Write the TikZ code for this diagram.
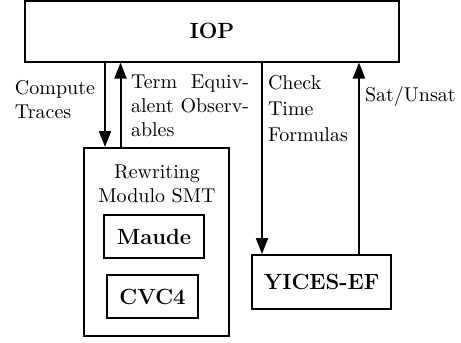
\documentclass[tikz,border=0pt]{standalone}
\usetikzlibrary{arrows.meta}

\begin{document}
\begin{tikzpicture}[x=1pt,y=1pt,line width=1pt,
        >={Triangle[length=8pt,width=6pt]},
        box/.style={draw,shape=rectangle,inner sep=0pt,font=\fontsize{11}{13}\selectfont\bfseries},
        lbl/.style={inner sep=0pt,anchor=west}]
        \useasboundingbox (0,0) rectangle (230.5,-171.5);
        \node[box,minimum width=187pt,minimum height=30.5pt] (iop) at (106,-15.5) {IOP};
        \node[box,minimum width=72.5pt,minimum height=94pt] (rw) at (78.25,-121) {};
        \node[inner sep=0pt,align=center] (rwt) at (78.5,-92) {Rewriting\\Modulo SMT};
        \node[box,minimum width=50pt,minimum height=21.5pt] (maude) at (77,-118.25) {Maude};
        \node[box,minimum width=45.5pt,minimum height=21.5pt] (cvc) at (76.25,-148.25) {CVC4};
        \node[box,minimum width=69.5pt,minimum height=27pt] (yices) at (160.75,-141) {YICES-EF};
        \draw[->] ([xshift=-25.75pt]rw.north |- iop.south) -- ([xshift=-25.75pt]rw.north);
        \draw[->] ([xshift=-18pt]rw.north) -- ([xshift=-18pt]rw.north |- iop.south);
        \draw[->] ([xshift=5.5pt]yices.north west |- iop.south) -- ([xshift=5.5pt]yices.north west);
        \draw[->] ([xshift=-16.5pt]yices.north east) -- ([xshift=-16.5pt]yices.north east |- iop.south);
        \node[lbl,align=left] (ct) at (7,-49.75) {Compute\\Traces};
        \node[lbl,text width=59pt,align=justify] (teo) at (65,-53) {Term\hfill Equiv-\\alent\hfill Observ-\\ables};
        \node[lbl,align=left] (ctf) at (133.5,-54.25) {Check\\[1.2pt]Time\\[1.2pt]Formulas};
        \node[lbl] (su) at (182,-48) {Sat/Unsat};
    \end{tikzpicture}
\end{document}
